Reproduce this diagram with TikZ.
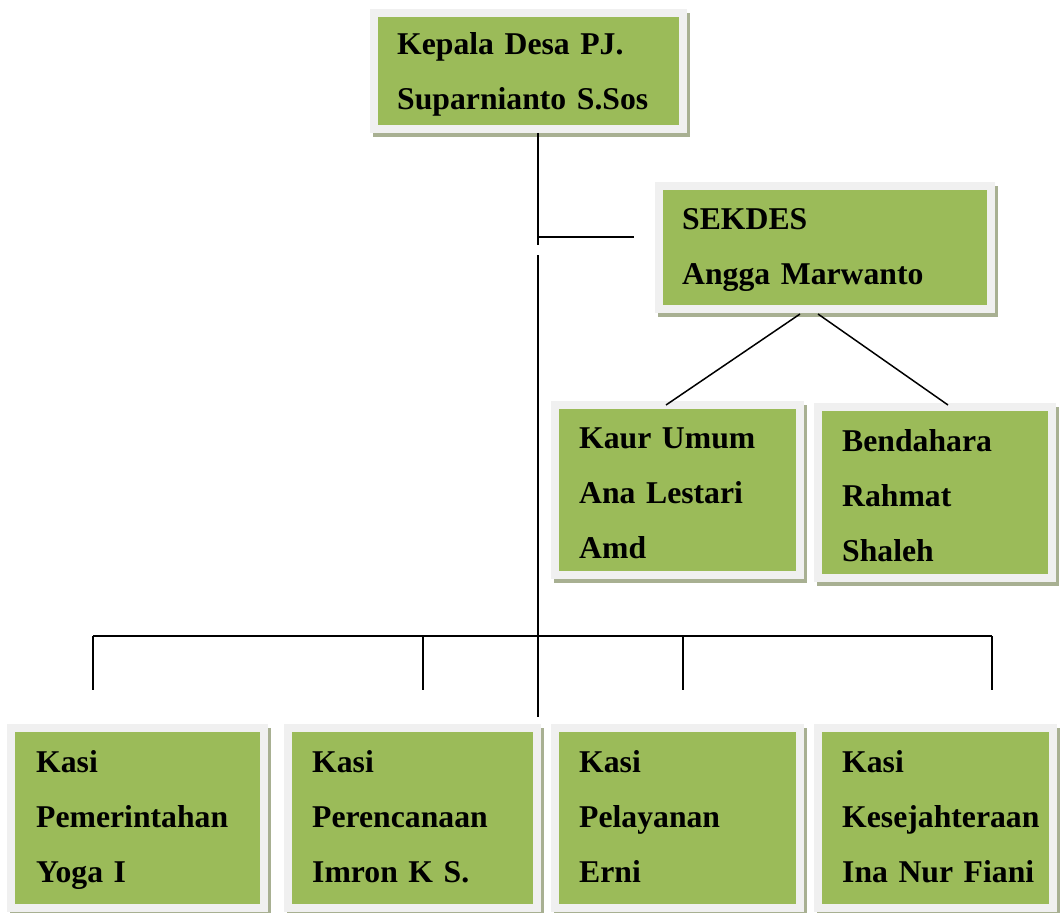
\documentclass[tikz,border=0pt]{standalone}
\usepackage{fontspec}
\setmainfont{Liberation Serif}
\usetikzlibrary{shadows}
\definecolor{boxgreen}{RGB}{155,187,89}
\definecolor{boxrim}{RGB}{240,240,240}
\definecolor{boxshadow}{RGB}{168,176,146}

\begin{document}
\begin{tikzpicture}[x=1pt,y=-1pt]

\tikzstyle{orgbox}=[rectangle,fill=boxgreen,draw=boxrim,line width=8pt,inner sep=0pt,
  outer sep=0pt,
  drop shadow={shadow xshift=3pt,shadow yshift=-4pt,opacity=1,fill=boxshadow,draw=boxshadow}]
\tikzstyle{orgtxt}=[anchor=base west,inner sep=0pt,align=left,text width=300pt,
  font=\bfseries\fontsize{31.7}{55}\selectfont]
\tikzstyle{link}=[line width=1.5pt]

\useasboundingbox (0,0) rectangle (1064,912);

 % boxes
 \node[orgbox,minimum width=309pt,minimum height=116pt] (kades) at (528.5,71) {};
 \node[orgbox,minimum width=332pt,minimum height=123pt] (sekdes) at (825,247.5) {};
 \node[orgbox,minimum width=245pt,minimum height=170pt] (kaur) at (677.5,490) {};
 \node[orgbox,minimum width=234pt,minimum height=171pt] (benda) at (935,492.5) {};
 \node[orgbox,minimum width=253pt,minimum height=180pt] (kasiA) at (137.5,818) {};
 \node[orgbox,minimum width=249pt,minimum height=180pt] (kasiB) at (412.5,818) {};
 \node[orgbox,minimum width=245pt,minimum height=180pt] (kasiC) at (677.5,818) {};
 \node[orgbox,minimum width=235pt,minimum height=180pt] (kasiD) at (935.5,818) {};

 % texts
 \node[orgtxt] (kadesT) at ([shift={(23,42)}]kades.north west)
  {Kepala Desa PJ.\\Suparnianto S.Sos};
 \node[orgtxt] (sekdesT) at ([shift={(23,43)}]sekdes.north west)
  {SEKDES\\Angga Marwanto};
 \node[orgtxt] (kaurT) at ([shift={(24,43)}]kaur.north west)
  {Kaur Umum\\Ana Lestari\\Amd};
 \node[orgtxt] (bendaT) at ([shift={(24,44)}]benda.north west)
  {Bendahara\\Rahmat\\Shaleh};
 \node[orgtxt] (kasiAT) at ([shift={(25,44)}]kasiA.north west)
  {Kasi\\Pemerintahan\\Yoga I};
 \node[orgtxt] (kasiBT) at ([shift={(24,44)}]kasiB.north west)
  {Kasi\\Perencanaan\\Imron K S.};
 \node[orgtxt] (kasiCT) at ([shift={(24,44)}]kasiC.north west)
  {Kasi\\Pelayanan\\Erni};
 \node[orgtxt] (kasiDT) at ([shift={(24,44)}]kasiD.north west)
  {Kasi\\Kesejahteraan\\Ina Nur Fiani};

 % lines
 \coordinate (split) at ([shift={(9.5,108)}]kades.south);
 \coordinate (sekdesin) at ([xshift=-25pt]sekdes.west);
 \draw[link] ([shift={(9.5,4)}]kades.south) -- ([yshift=-8pt]split);
 \draw[link] (split) -- (split -| sekdesin);
 \draw[link] ([yshift=-18pt]split) -- ([yshift=-480pt]split);
 \draw[link] ([shift={(-25,5)}]sekdes.south) -- ([shift={(-11.5,0)}]kaur.north);
 \draw[link] ([shift={(-7,5)}]sekdes.south) -- ([shift={(13,-2)}]benda.north);
 \draw[link] ([shift={(-44.5,-92)}]kasiA.north) -- ([shift={(56.5,-92)}]kasiD.north);
 \foreach \n/\dx in {kasiA/-44.5,kasiB/10.5,kasiC/5.5,kasiD/56.5}
  \draw[link] ([shift={(\dx,-92)}]\n.north) -- ([shift={(\dx,-38)}]\n.north);
\end{tikzpicture}
\end{document}
